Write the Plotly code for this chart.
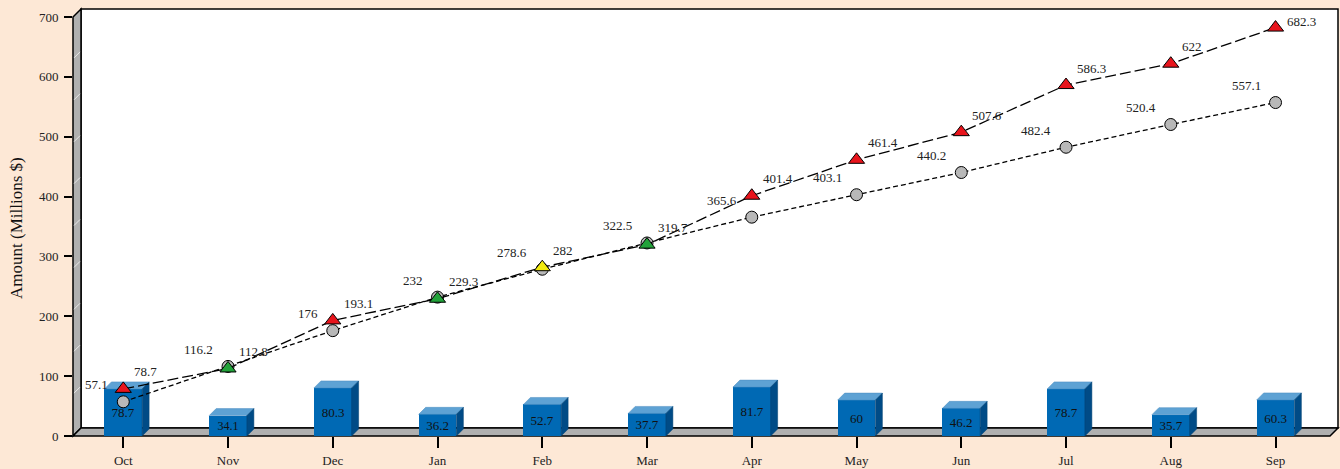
import plotly.graph_objects as go

# ---------------- data ----------------
months = ["Oct", "Nov", "Dec", "Jan", "Feb", "Mar", "Apr", "May", "Jun", "Jul", "Aug", "Sep"]
monthly = [78.7, 34.1, 80.3, 36.2, 52.7, 37.7, 81.7, 60, 46.2, 78.7, 35.7, 60.3]
cumulative = [78.7, 112.8, 193.1, 229.3, 282, 319.7, 401.4, 461.4, 507.6, 586.3, 622, 682.3]
planned = [57.1, 116.2, 176, 232, 278.6, 322.5, 365.6, 403.1, 440.2, 482.4, 520.4, 557.1]
tri_colors = ["#e8141c", "#22a33a", "#e8141c", "#22a33a", "#f2ea10", "#22a33a",
              "#e8141c", "#e8141c", "#e8141c", "#e8141c", "#e8141c", "#e8141c"]
y_ticks = [0, 100, 200, 300, 400, 500, 600, 700]

# ---------------- geometry ----------------
W, H = 1340, 469
FX0, FX1, FY0, FY1 = 73, 1330, 17, 436      # front plane (pixels)
D = 8                                        # depth offset (pixels)
XR = [-0.48, 11.52]
YR = [0, 700]
px_per_x = (FX1 - FX0) / (XR[1] - XR[0])
px_per_y = (FY1 - FY0) / (YR[1] - YR[0])
FONT = "Liberation Serif, Times New Roman, serif"

def px(x):
    return x / W

def py(y):
    return 1 - y / H

x_idx = list(range(len(months)))

fig = go.Figure()

# ---------- front subplot traces (x2, y2) ----------
bar_w = 0.36
bd = 7
dx = bd / px_per_x
dy = bd / px_per_y

fig.add_trace(go.Bar(
    x=x_idx, y=monthly, width=bar_w, xaxis="x2", yaxis="y2",
    marker=dict(color="#0069b4", line=dict(width=0)),
    text=[f"{v:g}" for v in monthly], textposition="inside",
    insidetextanchor="middle", textangle=0,
    textfont=dict(family=FONT, size=13, color="#111"),
    showlegend=False, hoverinfo="skip"))

h = bar_w / 2
for i, v in zip(x_idx, monthly):
    fig.add_trace(go.Scatter(
        x=[i - h, i - h + dx, i + h + dx, i + h, i - h],
        y=[v, v + dy, v + dy, v, v],
        fill="toself", fillcolor="#5ea2d4", mode="lines",
        line=dict(width=0.5, color="#4a8cc0"),
        xaxis="x2", yaxis="y2", showlegend=False, hoverinfo="skip"))
    fig.add_trace(go.Scatter(
        x=[i + h, i + h + dx, i + h + dx, i + h, i + h],
        y=[0, dy, v + dy, v, 0],
        fill="toself", fillcolor="#004b86", mode="lines",
        line=dict(width=0.5, color="#004070"),
        xaxis="x2", yaxis="y2", showlegend=False, hoverinfo="skip"))

fig.add_trace(go.Scatter(
    x=x_idx, y=planned, mode="lines+markers", xaxis="x2", yaxis="y2",
    line=dict(color="black", width=1.3, dash="5px,3px"),
    marker=dict(symbol="circle", size=12, color="#b8b8b8",
                line=dict(color="black", width=1)),
    showlegend=False, hoverinfo="skip"))

fig.add_trace(go.Scatter(
    x=x_idx, y=cumulative, mode="lines+markers", xaxis="x2", yaxis="y2",
    line=dict(color="black", width=1.3, dash="11px,4px"),
    marker=dict(symbol="triangle-up", size=14, color=tri_colors,
                line=dict(color="black", width=1)),
    showlegend=False, hoverinfo="skip"))

annotations = []
for i, v in zip(x_idx, planned):
    annotations.append(dict(
        x=i, y=v, xref="x2", yref="y2", text=f"{v:g}", showarrow=False,
        xanchor="right", yanchor="middle", xshift=-13, yshift=17,
        font=dict(family=FONT, size=13, color="#222")))
for i, v in zip(x_idx, cumulative):
    ys = min(17, (YR[1] - v) * px_per_y - 5)
    annotations.append(dict(
        x=i, y=v, xref="x2", yref="y2", text=f"{v:g}", showarrow=False,
        xanchor="left", yanchor="middle", xshift=9, yshift=ys,
        font=dict(family=FONT, size=13, color="#222")))

annotations.append(dict(
    x=px(16), y=py(228), xref="paper", yref="paper", text="Amount (Millions $)",
    textangle=-90, showarrow=False, xanchor="center", yanchor="middle",
    font=dict(family=FONT, size=17, color="#111")))

# ---------- decorative 3D walls (paper shapes) ----------
shapes = []
shapes.append(dict(type="rect", xref="paper", yref="paper",
                   x0=px(FX0 + D), x1=px(FX1 + D), y0=py(FY1 - D), y1=py(FY0 - D),
                   fillcolor="white", line=dict(color="black", width=1.5), layer="below"))

def poly(points, fill, lw=1.5):
    path = "M " + " L ".join(f"{px(a):.6f},{py(b):.6f}" for a, b in points) + " Z"
    return dict(type="path", xref="paper", yref="paper", path=path,
                fillcolor=fill, line=dict(color="black", width=lw), layer="below")

shapes.append(poly([(FX0, FY0), (FX0 + D, FY0 - D), (FX0 + D, FY1 - D), (FX0, FY1)], "#b0b0b0"))
shapes.append(poly([(FX0, FY1), (FX1, FY1), (FX1 + D, FY1 - D), (FX0 + D, FY1 - D)], "#b0b0b0"))
for g in range(70, 700, 70):
    yf = FY1 - g * px_per_y
    shapes.append(dict(type="line", xref="paper", yref="paper",
                       x0=px(FX0 + 1), y0=py(yf - 1), x1=px(FX0 + D - 1), y1=py(yf - D + 1),
                       line=dict(color="rgba(255,255,255,0.7)", width=1), layer="below"))

# ---------- layout ----------
back_dom_x = [px(FX0 + D), px(FX1 + D)]
back_dom_y = [py(FY1 - D), py(FY0 - D)]
front_dom_x = [px(FX0), px(FX1)]
front_dom_y = [py(FY1), py(FY0)]

fig.update_layout(
    width=W, height=H,
    autosize=False,
    margin=dict(l=0, r=0, t=0, b=0, pad=0, autoexpand=False),
    paper_bgcolor="#fde8d6",
    plot_bgcolor="rgba(0,0,0,0)",
    showlegend=False,
    shapes=shapes,
    annotations=annotations,
    bargap=0,
    xaxis=dict(domain=back_dom_x, range=XR, anchor="y", tickvals=x_idx,
               showticklabels=False, ticks="", showgrid=True, automargin=False,
               gridcolor="#dcdcdc", gridwidth=1.5, zeroline=False, showline=False,
               fixedrange=True),
    yaxis=dict(domain=back_dom_y, range=YR, anchor="x", dtick=70, tick0=0,
               showticklabels=False, ticks="", showgrid=True, automargin=False,
               gridcolor="#dcdcdc", gridwidth=1.5, zeroline=False, showline=False,
               fixedrange=True),
    xaxis2=dict(domain=front_dom_x, range=XR, anchor="y2", tickvals=x_idx,
                ticktext=months, showgrid=False, zeroline=False, showline=False,
                ticks="outside", ticklen=11, tickwidth=1.5, tickcolor="black",
                ticklabelstandoff=1, automargin=False,
                tickfont=dict(family=FONT, size=13, color="#222"), fixedrange=True),
    yaxis2=dict(domain=front_dom_y, range=YR, anchor="x2", tickvals=y_ticks,
                showgrid=False, zeroline=False, showline=False,
                ticks="outside", ticklen=8, tickwidth=1.5, tickcolor="black",
                ticklabelstandoff=3, automargin=False,
                tickfont=dict(family=FONT, size=13, color="#222"), fixedrange=True),
)

fig.write_html(
    "out.html",
    config={"responsive": False, "displayModeBar": False},
    post_script="document.body.style.margin='0';document.body.style.overflow='hidden';",
)
